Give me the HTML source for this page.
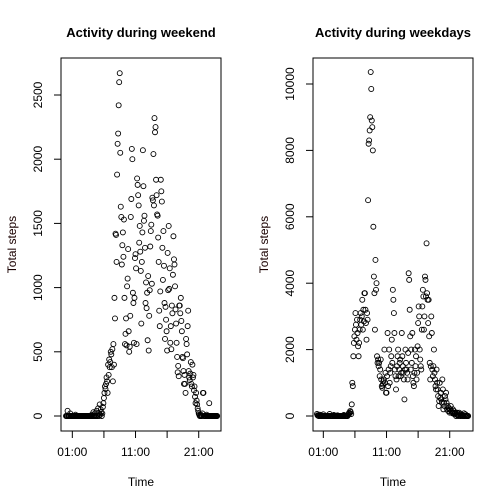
<!DOCTYPE html>
<html><head><meta charset="utf-8">
<style>
html,body{margin:0;padding:0;background:#fff;}
svg{display:block;font-family:"Liberation Sans",Arial,sans-serif;}
</style></head>
<body>
<svg id="c" width="504" height="504" viewBox="0 0 504 504"></svg>
<script>
const weekendSteps = [
0,0,0,40,0,0,0,0,20,0,0,0,
0,0,0,0,0,0,10,0,0,0,0,0,
0,0,0,0,0,0,0,0,0,0,0,0,
0,0,0,0,0,0,0,0,0,0,0,0,
0,10,0,0,30,0,0,20,0,0,40,0,
0,60,20,0,90,10,50,30,0,20,70,100,
140,180,230,210,250,300,270,180,400,320,440,380,
420,500,480,380,520,270,560,400,920,760,1420,1410,
1200,1880,2120,2200,2420,2600,2670,2050,1630,1550,1180,1330,
1430,1240,1530,920,560,640,760,550,1010,1070,1300,660,
500,540,780,1550,1690,2080,2000,960,880,570,920,1230,
1260,1150,560,1850,1800,1720,1640,1350,1480,1280,1130,720,
1200,1430,2070,1790,1520,1560,1310,880,1040,840,960,590,
1090,510,780,980,1320,1440,1490,1030,1700,1680,2040,1640,
2320,2210,2250,1840,1720,1570,1560,1390,1200,820,700,970,
1840,1750,1670,1310,1060,1440,1170,880,600,850,750,660,
510,1270,980,1480,990,1150,570,700,520,860,800,1100,
1400,1220,1180,1010,830,720,570,460,340,390,310,860,
860,800,920,740,660,460,450,350,250,320,250,180,
600,560,480,700,820,350,300,280,330,420,250,230,
400,300,320,200,230,150,100,180,120,90,60,40,
20,10,0,0,10,0,0,20,180,180,0,0,
0,0,0,10,0,0,0,0,100,0,0,0,
0,0,0,0,0,0,0,0,0,0,0,0];
const weekdaySteps = [
60,20,10,0,0,40,0,0,20,0,0,0,
50,0,0,0,0,10,0,0,0,0,0,0,
60,0,0,0,0,0,0,0,30,0,0,0,
0,0,0,20,0,0,0,0,0,0,0,0,
0,0,0,30,0,0,0,0,0,0,0,40,
60,100,80,150,120,60,350,1000,900,1800,2200,2400,
2600,3100,2750,2300,2900,2500,2100,1800,2200,2600,2900,3100,
2750,3000,3500,2600,3200,2850,3700,3700,3200,2800,2300,3100,
2900,6500,8200,8300,8600,9000,10360,9850,8900,8700,8000,5700,
4200,3700,2600,4700,3800,4000,1800,1600,1700,1500,1600,1200,
1400,1700,1100,900,850,950,1050,1100,2000,1000,1300,700,
700,1200,2500,900,1400,2000,1000,1300,1500,1800,2300,1600,
3800,3500,3100,2500,1400,1200,800,1100,1500,1800,2000,1200,
1400,1600,1700,1200,1300,2500,1800,1500,1300,1100,500,1400,
2000,1600,1400,1300,1100,1900,4300,4100,3200,2400,1400,2000,
1600,2500,1200,1000,900,1300,2000,1500,1800,1100,1300,2100,
2800,3300,3000,2000,1700,1500,1400,2600,3300,3800,3600,2600,
3000,4200,4100,3600,5200,3700,3500,2800,3500,2400,1600,1100,
1500,3000,2500,1400,1200,1500,2000,1300,1100,900,800,1400,
1000,800,600,300,450,1000,550,700,500,400,1100,800,
200,400,300,600,500,700,400,200,300,150,250,200,
100,200,300,150,100,80,200,100,150,50,80,100,
0,50,100,30,0,20,100,60,0,0,50,30,
0,20,0,80,0,0,50,10,0,0,0,0];
const xTickHours = [1,6,11,16,21];
const xTickLabels = ["01:00","","11:00","","21:00"];
const weekendYTicks = [0,500,1000,1500,2000,2500];
const weekdayYTicks = [0,2000,4000,6000,8000,10000];

const svg = document.getElementById('c');
const NS = 'http://www.w3.org/2000/svg';
function mk(tag, attrs){const e=document.createElementNS(NS,tag);for(const k in attrs)e.setAttribute(k,attrs[k]);svg.appendChild(e);return e;}

function panel(cfg){
  const xScale = h => cfg.x0 + h*6.32;
  const yScale = v => 416 - (v - 0) * cfg.pxPer;
  const box = mk('rect',{x:cfg.bx,y:58,width:160,height:373,fill:'none',stroke:'#000','stroke-width':1});
  
  
  const t = mk('text',{x:cfg.bx+80,y:37,'text-anchor':'middle','font-size':13,'font-weight':'bold'});
  t.textContent = cfg.title;
  
  
  cfg.data.forEach((v,i)=>{
    const c = mk('circle',{cx:xScale(i/12).toFixed(2),cy:yScale(v).toFixed(2),r:2.5,fill:'none',stroke:'#000','stroke-width':0.9});
    
    
  });
  const xa = mk('line',{x1:xScale(xTickHours[0]),x2:xScale(xTickHours[xTickHours.length-1]),y1:431,y2:431,stroke:'#000'});
  
  
  xTickHours.forEach((h,i)=>{
    const tk = mk('line',{x1:xScale(h),x2:xScale(h),y1:431,y2:438,stroke:'#000'});
    
    
    if(xTickLabels[i]){
      const l = mk('text',{x:xScale(h),y:456,'text-anchor':'middle','font-size':12});
      l.textContent = xTickLabels[i];
      
      
    }
  });
  const xt = mk('text',{x:cfg.bx+80,y:486,'text-anchor':'middle','font-size':12});
  xt.textContent='Time';
  
  
  const yt = cfg.yTicks;
  const ya = mk('line',{x1:cfg.bx,x2:cfg.bx,y1:yScale(yt[0]),y2:yScale(yt[yt.length-1]),stroke:'#000'});
  
  
  yt.forEach(v=>{
    const y=yScale(v);
    const tk = mk('line',{x1:cfg.bx-7,x2:cfg.bx,y1:y,y2:y,stroke:'#000'});
    
    
    const lx = cfg.bx-19;
    const l = mk('text',{x:lx,y:y,'text-anchor':'middle','font-size':12,transform:`rotate(-90 ${lx} ${y})`});
    l.textContent = String(v);
    
    
  });
  const yx = cfg.bx-45;
  const ytl = mk('text',{x:yx,y:244.5,'text-anchor':'middle','font-size':12,fill:'#1a0000',transform:`rotate(-90 ${yx} 244.5)`});
  ytl.textContent='Total steps';
  
  
}
panel({id:'weekend',bx:61,x0:66,pxPer:321/2500,data:weekendSteps,yTicks:weekendYTicks,title:'Activity during weekend'});
panel({id:'weekdays',bx:313,x0:317,pxPer:332/10000,data:weekdaySteps,yTicks:weekdayYTicks,title:'Activity during weekdays'});
</script>
</body></html>
